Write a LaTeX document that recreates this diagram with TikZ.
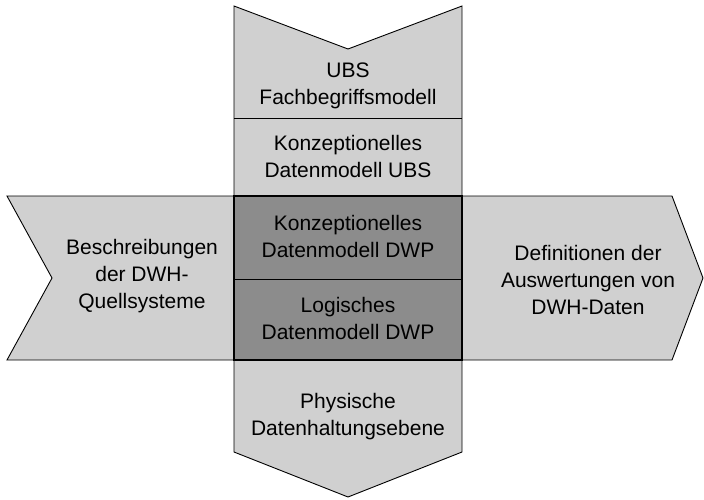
\documentclass[tikz,border=0pt]{standalone}
\usepackage{fontspec}
\setmainfont{Liberation Sans}
\definecolor{lightfill}{RGB}{208,208,208}
\definecolor{darkfill}{RGB}{140,140,140}
\begin{document}
\begin{tikzpicture}[x=1pt,y=-1pt,
  shape outline/.style={draw=black,line width=0.9pt,line join=miter},
  label text/.style={align=center,font=\fontsize{21}{27}\selectfont,inner sep=0pt},
  divider/.style={draw=black,line width=0.9pt}]
\useasboundingbox (0,0) rectangle (704,499);
% horizontal arrow
\path[shape outline,fill=lightfill] (7,196) -- (672,196) -- (703,278) -- (672,360) -- (7,360) -- (52,278) -- cycle;
% vertical arrow
\path[shape outline,fill=lightfill] (234,6) -- (348,49) -- (462,6) -- (462,452) -- (348,497) -- (234,452) -- cycle;
% dark centre
\path[fill=darkfill,draw=black,line width=1.6pt] (234,196) rectangle (462,360);
\draw[divider] (234,118) -- (462,118);
\draw[divider] (234,279) -- (462,279);
% texts
\node[label text] (ubs) at (348,86) {UBS\\Fachbegriffsmodell};
\node[label text] (kubs) at (348,156) {Konzeptionelles\\Datenmodell UBS};
\node[label text] (kdwp) at (348,236) {Konzeptionelles\\Datenmodell DWP};
\node[label text] (ldwp) at (348,318) {Logisches\\Datenmodell DWP};
\node[label text] (phys) at (348,417) {Physische\\Datenhaltungsebene};
\node[label text] (src) at (142,276) {Beschreibungen\\der DWH-\\Quellsysteme};
\node[label text] (aus) at (588,280) {Definitionen der\\Auswertungen von\\DWH-Daten};
\end{tikzpicture}
\end{document}
